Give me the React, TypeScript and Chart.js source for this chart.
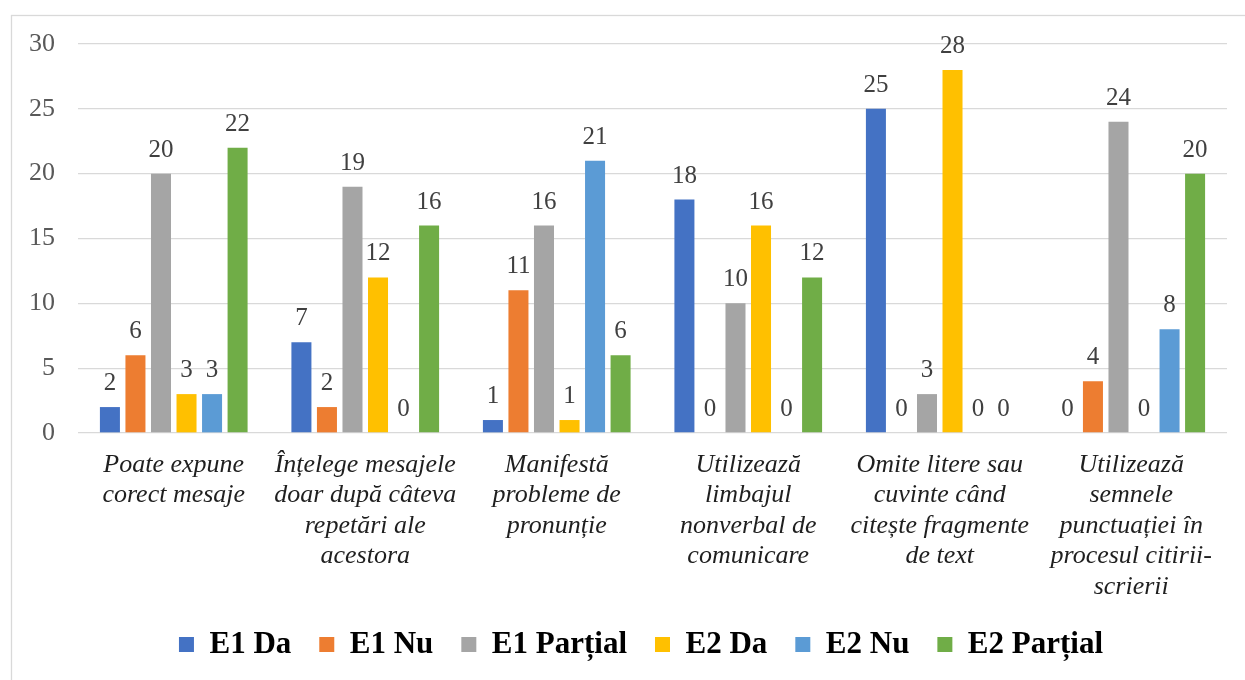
import React, { useEffect, useRef } from "react";
import { Chart, registerables } from "chart.js";

Chart.register(...registerables);

const categories: string[][] = [
  ["Poate expune", "corect mesaje"],
  ["Înțelege mesajele", "doar după câteva", "repetări ale", "acestora"],
  ["Manifestă", "probleme de", "pronunție"],
  ["Utilizează", "limbajul", "nonverbal de", "comunicare"],
  ["Omite litere sau", "cuvinte când", "citește fragmente", "de text"],
  ["Utilizează", "semnele", "punctuației în", "procesul citirii-", "scrierii"],
];

const seriesNames = ["E1 Da", "E1 Nu", "E1 Parțial", "E2 Da", "E2 Nu", "E2 Parțial"];
const e1Da = [2, 7, 1, 18, 25, 0];
const e1Nu = [6, 2, 11, 0, 0, 4];
const e1Partial = [20, 19, 16, 10, 3, 24];
const e2Da = [3, 12, 1, 16, 28, 0];
const e2Nu = [3, 0, 21, 0, 0, 8];
const e2Partial = [22, 16, 6, 12, 0, 20];
const seriesValues = [e1Da, e1Nu, e1Partial, e2Da, e2Nu, e2Partial];
const seriesColors = ["#4472C4", "#ED7D31", "#A5A5A5", "#FFC000", "#5B9BD5", "#70AD47"];

const yMin = 0;
const yMax = 30;
const yStep = 5;

const FONT = '"Liberation Serif", "Times New Roman", serif';

const borderPlugin = {
  id: "outerBorder",
  beforeDraw(chart: any) {
    const ctx = chart.ctx;
    ctx.save();
    ctx.fillStyle = "#ffffff";
    ctx.fillRect(0, 0, chart.width, chart.height);
    ctx.strokeStyle = "#D9D9D9";
    ctx.lineWidth = 1.3;
    ctx.strokeRect(11.5, 15.5, 1300, 700);
    ctx.restore();
  },
};

const legendShiftPlugin = {
  id: "legendShift",
  afterLayout(chart: any) {
    const lg = chart.legend;
    if (lg) {
      lg.left = 55;
      lg.right = chart.chartArea.right;
    }
  },
};

const dataLabelPlugin = {
  id: "barValueLabels",
  afterDatasetsDraw(chart: any) {
    const ctx = chart.ctx;
    ctx.save();
    ctx.font = `25px ${FONT}`;
    ctx.fillStyle = "#404040";
    ctx.textAlign = "center";
    ctx.textBaseline = "alphabetic";
    chart.data.datasets.forEach((ds: any, di: number) => {
      const meta = chart.getDatasetMeta(di);
      meta.data.forEach((bar: any, i: number) => {
        const v = ds.data[i];
        ctx.fillText(String(v), bar.x, bar.y - 17);
      });
    });
    ctx.restore();
  },
};

export default function App() {
  const canvasRef = useRef<HTMLCanvasElement | null>(null);

  useEffect(() => {
    if (!canvasRef.current) return;
    const chart = new Chart(canvasRef.current, {
      type: "bar",
      data: {
        labels: categories,
        datasets: seriesNames.map((name, i) => ({
          label: name,
          data: seriesValues[i],
          backgroundColor: seriesColors[i],
          borderWidth: 0,
          categoryPercentage: 0.8,
          barPercentage: 0.784,
        })),
      },
      options: {
        responsive: false,
        animation: false,
        devicePixelRatio: 1,
        layout: { padding: { top: 44, left: 20, right: 18, bottom: 10 } },
        plugins: {
          tooltip: { enabled: false },
          legend: {
            position: "bottom",
            labels: {
              boxWidth: 15,
              boxHeight: 15,
              padding: 28,
              color: "#000000",
              font: { family: FONT, size: 31, weight: "bold" },
            },
          },
        },
        scales: {
          x: {
            grid: { display: false, drawTicks: false, tickLength: 0 },
            border: { display: false },
            ticks: {
              padding: 17,
              color: "#1F1F1F",
              maxRotation: 0,
              autoSkip: false,
              font: { family: FONT, size: 26, style: "italic", lineHeight: 1.17 },
            },
            afterFit: (scale: any) => {
              scale.height = 168;
            },
          },
          y: {
            min: yMin,
            max: yMax,
            grid: { color: "#D9D9D9", lineWidth: 1.3, drawTicks: false, tickLength: 0 },
            border: { display: false },
            ticks: {
              stepSize: yStep,
              padding: 23,
              color: "#595959",
              font: { family: FONT, size: 26 },
            },
            afterFit: (scale: any) => {
              scale.width = 58;
            },
          },
        },
      },
      plugins: [borderPlugin, legendShiftPlugin, dataLabelPlugin],
    });
    return () => chart.destroy();
  }, []);

  return (
    <div style={{ position: "fixed", left: 0, top: 0, width: 1245, height: 680, overflow: "hidden", background: "#fff" }}>
      <canvas ref={canvasRef} width={1245} height={680} style={{ display: "block", width: 1245, height: 680 }} />
    </div>
  );
}
